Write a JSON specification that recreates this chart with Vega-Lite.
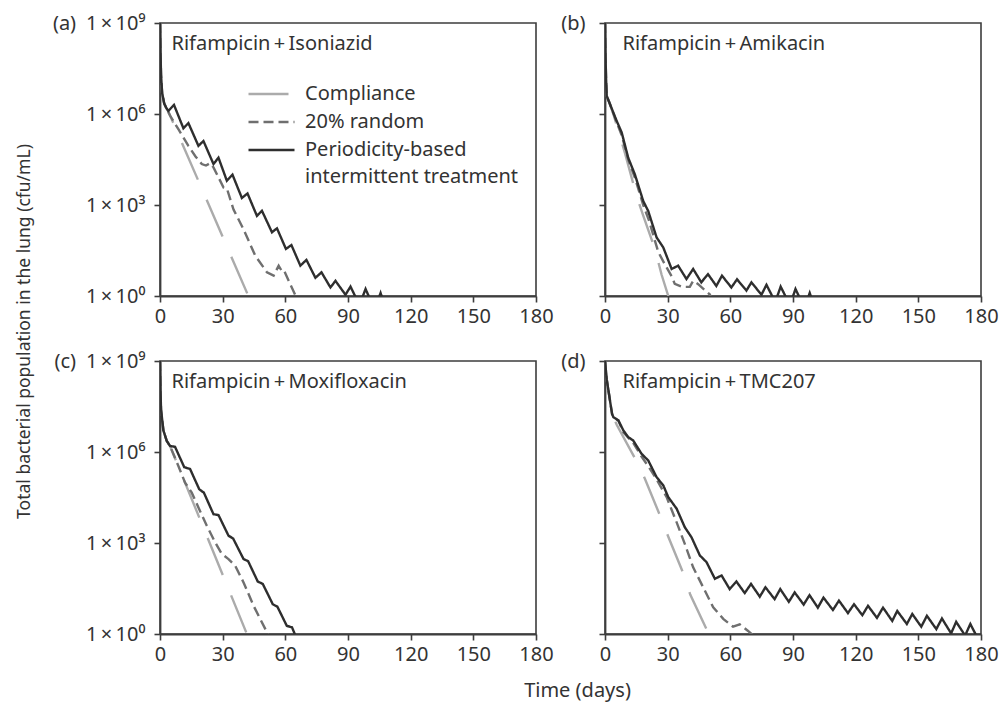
{
  "$schema": "https://vega.github.io/schema/vega-lite/v6.json",
  "padding": {"left": 14, "top": 12, "right": 5, "bottom": 5},
  "background": "white",
  "columns": 2,
  "spacing": {"row": 65, "column": 69},
  "bounds": "flush",
  "resolve": {"legend": {"color": "independent", "strokeDash": "independent"}},
  "datasets": {
    "a": [
      {"series": "Compliance", "day": 0, "cfu": 1e9}, {"series": "Compliance", "day": 0.25, "cfu": 1e8}, {"series": "Compliance", "day": 0.5, "cfu": 2e7}, {"series": "Compliance", "day": 1, "cfu": 5.01e6}, {"series": "Compliance", "day": 2, "cfu": 2.24e6}, {"series": "Compliance", "day": 3, "cfu": 1.58e6}, {"series": "Compliance", "day": 4, "cfu": 1.2e6}, {"series": "Compliance", "day": 42.3, "cfu": 1}, {"series": "Compliance", "day": 44, "cfu": 0.537},
      {"series": "20% random", "day": 0, "cfu": 1e9}, {"series": "20% random", "day": 0.25, "cfu": 1e8}, {"series": "20% random", "day": 0.5, "cfu": 2e7}, {"series": "20% random", "day": 1, "cfu": 5.01e6}, {"series": "20% random", "day": 2, "cfu": 2.24e6}, {"series": "20% random", "day": 3, "cfu": 1.58e6}, {"series": "20% random", "day": 4.8, "cfu": 8.91e5}, {"series": "20% random", "day": 8.8, "cfu": 3.16e5}, {"series": "20% random", "day": 13.6, "cfu": 8.91e4}, {"series": "20% random", "day": 17, "cfu": 3.98e4}, {"series": "20% random", "day": 20, "cfu": 2.24e4}, {"series": "20% random", "day": 22, "cfu": 2.0e4}, {"series": "20% random", "day": 24, "cfu": 2.4e4}, {"series": "20% random", "day": 25.6, "cfu": 1.74e4}, {"series": "20% random", "day": 30.4, "cfu": 3.8e3}, {"series": "20% random", "day": 32, "cfu": 3.55e3}, {"series": "20% random", "day": 35.2, "cfu": 708}, {"series": "20% random", "day": 40, "cfu": 158}, {"series": "20% random", "day": 45.6, "cfu": 21.4}, {"series": "20% random", "day": 51.2, "cfu": 6.03}, {"series": "20% random", "day": 54.4, "cfu": 4.68}, {"series": "20% random", "day": 56.8, "cfu": 10}, {"series": "20% random", "day": 58.5, "cfu": 6.31}, {"series": "20% random", "day": 59.5, "cfu": 6.61}, {"series": "20% random", "day": 65.6, "cfu": 0.794}, {"series": "20% random", "day": 66.5, "cfu": 0.6},
      {"series": "Periodicity-based intermittent treatment", "day": 0, "cfu": 1e9}, {"series": "Periodicity-based intermittent treatment", "day": 0.25, "cfu": 1e8}, {"series": "Periodicity-based intermittent treatment", "day": 0.5, "cfu": 2e7}, {"series": "Periodicity-based intermittent treatment", "day": 1, "cfu": 5.01e6}, {"series": "Periodicity-based intermittent treatment", "day": 2, "cfu": 2.24e6}, {"series": "Periodicity-based intermittent treatment", "day": 3, "cfu": 1.58e6}, {"series": "Periodicity-based intermittent treatment", "day": 4, "cfu": 1.26e6}, {"series": "Periodicity-based intermittent treatment", "day": 6.7, "cfu": 2e6}, {"series": "Periodicity-based intermittent treatment", "day": 11.2, "cfu": 3.39e5}, {"series": "Periodicity-based intermittent treatment", "day": 13.6, "cfu": 5.01e5}, {"series": "Periodicity-based intermittent treatment", "day": 18.4, "cfu": 8.91e4}, {"series": "Periodicity-based intermittent treatment", "day": 20.8, "cfu": 1.29e5}, {"series": "Periodicity-based intermittent treatment", "day": 25.6, "cfu": 2.24e4}, {"series": "Periodicity-based intermittent treatment", "day": 28, "cfu": 3.63e4}, {"series": "Periodicity-based intermittent treatment", "day": 32, "cfu": 6.31e3}, {"series": "Periodicity-based intermittent treatment", "day": 34.7, "cfu": 1e4}, {"series": "Periodicity-based intermittent treatment", "day": 39.2, "cfu": 1.7e3}, {"series": "Periodicity-based intermittent treatment", "day": 41.9, "cfu": 2.4e3}, {"series": "Periodicity-based intermittent treatment", "day": 46.4, "cfu": 437}, {"series": "Periodicity-based intermittent treatment", "day": 48.8, "cfu": 646}, {"series": "Periodicity-based intermittent treatment", "day": 53.6, "cfu": 126}, {"series": "Periodicity-based intermittent treatment", "day": 56, "cfu": 170}, {"series": "Periodicity-based intermittent treatment", "day": 60.3, "cfu": 35.5}, {"series": "Periodicity-based intermittent treatment", "day": 62.9, "cfu": 47.9}, {"series": "Periodicity-based intermittent treatment", "day": 67.2, "cfu": 10}, {"series": "Periodicity-based intermittent treatment", "day": 70.1, "cfu": 15.5}, {"series": "Periodicity-based intermittent treatment", "day": 74.4, "cfu": 3.98}, {"series": "Periodicity-based intermittent treatment", "day": 77.3, "cfu": 6.03}, {"series": "Periodicity-based intermittent treatment", "day": 81.6, "cfu": 1.91}, {"series": "Periodicity-based intermittent treatment", "day": 84, "cfu": 3.16}, {"series": "Periodicity-based intermittent treatment", "day": 88.8, "cfu": 1.1}, {"series": "Periodicity-based intermittent treatment", "day": 91.2, "cfu": 2.04}, {"series": "Periodicity-based intermittent treatment", "day": 95.5, "cfu": 0.501}, {"series": "Periodicity-based intermittent treatment", "day": 98.4, "cfu": 1.7}, {"series": "Periodicity-based intermittent treatment", "day": 102.8, "cfu": 0.355}, {"series": "Periodicity-based intermittent treatment", "day": 105.6, "cfu": 1.26}, {"series": "Periodicity-based intermittent treatment", "day": 107.5, "cfu": 0.5}
    ],
    "b": [
      {"series": "Compliance", "day": 0, "cfu": 1e9}, {"series": "Compliance", "day": 0.25, "cfu": 7.94e7}, {"series": "Compliance", "day": 0.5, "cfu": 1.58e7}, {"series": "Compliance", "day": 0.8, "cfu": 3.98e6}, {"series": "Compliance", "day": 2.4, "cfu": 2.09e6}, {"series": "Compliance", "day": 4, "cfu": 1e6}, {"series": "Compliance", "day": 9.6, "cfu": 5.01e4}, {"series": "Compliance", "day": 15.1, "cfu": 2.0e3}, {"series": "Compliance", "day": 18.3, "cfu": 447}, {"series": "Compliance", "day": 23.9, "cfu": 35.5}, {"series": "Compliance", "day": 27.1, "cfu": 5.01}, {"series": "Compliance", "day": 30.3, "cfu": 1}, {"series": "Compliance", "day": 31.2, "cfu": 0.6},
      {"series": "20% random", "day": 0, "cfu": 1e9}, {"series": "20% random", "day": 0.25, "cfu": 7.94e7}, {"series": "20% random", "day": 0.5, "cfu": 1.58e7}, {"series": "20% random", "day": 0.8, "cfu": 3.98e6}, {"series": "20% random", "day": 2.4, "cfu": 2.09e6}, {"series": "20% random", "day": 5.6, "cfu": 5.25e5}, {"series": "20% random", "day": 8, "cfu": 2.0e5}, {"series": "20% random", "day": 11.1, "cfu": 3.16e4}, {"series": "20% random", "day": 14.3, "cfu": 7.94e3}, {"series": "20% random", "day": 18.3, "cfu": 1e3}, {"series": "20% random", "day": 21, "cfu": 316}, {"series": "20% random", "day": 25.5, "cfu": 28.2}, {"series": "20% random", "day": 29, "cfu": 10}, {"series": "20% random", "day": 31.9, "cfu": 4.47}, {"series": "20% random", "day": 33.4, "cfu": 2.51}, {"series": "20% random", "day": 37, "cfu": 2.0}, {"series": "20% random", "day": 40.6, "cfu": 2.0}, {"series": "20% random", "day": 42.2, "cfu": 3.16}, {"series": "20% random", "day": 44.6, "cfu": 2.45}, {"series": "20% random", "day": 50.2, "cfu": 1.12}, {"series": "20% random", "day": 51.5, "cfu": 0.631},
      {"series": "Periodicity-based intermittent treatment", "day": 0, "cfu": 1e9}, {"series": "Periodicity-based intermittent treatment", "day": 0.25, "cfu": 7.94e7}, {"series": "Periodicity-based intermittent treatment", "day": 0.5, "cfu": 1.58e7}, {"series": "Periodicity-based intermittent treatment", "day": 0.8, "cfu": 3.98e6}, {"series": "Periodicity-based intermittent treatment", "day": 2.4, "cfu": 2.09e6}, {"series": "Periodicity-based intermittent treatment", "day": 5.6, "cfu": 5.89e5}, {"series": "Periodicity-based intermittent treatment", "day": 8, "cfu": 2.45e5}, {"series": "Periodicity-based intermittent treatment", "day": 11.1, "cfu": 3.63e4}, {"series": "Periodicity-based intermittent treatment", "day": 14.3, "cfu": 1.02e4}, {"series": "Periodicity-based intermittent treatment", "day": 18.3, "cfu": 1.35e3}, {"series": "Periodicity-based intermittent treatment", "day": 20.7, "cfu": 631}, {"series": "Periodicity-based intermittent treatment", "day": 24.7, "cfu": 85.1}, {"series": "Periodicity-based intermittent treatment", "day": 27.9, "cfu": 39.8}, {"series": "Periodicity-based intermittent treatment", "day": 31.9, "cfu": 7.76}, {"series": "Periodicity-based intermittent treatment", "day": 35, "cfu": 10}, {"series": "Periodicity-based intermittent treatment", "day": 39, "cfu": 3.63}, {"series": "Periodicity-based intermittent treatment", "day": 42.2, "cfu": 7.76}, {"series": "Periodicity-based intermittent treatment", "day": 46.1, "cfu": 2.82}, {"series": "Periodicity-based intermittent treatment", "day": 49.3, "cfu": 5.25}, {"series": "Periodicity-based intermittent treatment", "day": 53.3, "cfu": 2.14}, {"series": "Periodicity-based intermittent treatment", "day": 56, "cfu": 4.68}, {"series": "Periodicity-based intermittent treatment", "day": 60.5, "cfu": 1.91}, {"series": "Periodicity-based intermittent treatment", "day": 63.2, "cfu": 3.55}, {"series": "Periodicity-based intermittent treatment", "day": 67.7, "cfu": 1.51}, {"series": "Periodicity-based intermittent treatment", "day": 70.1, "cfu": 2.82}, {"series": "Periodicity-based intermittent treatment", "day": 74.9, "cfu": 1.1}, {"series": "Periodicity-based intermittent treatment", "day": 77.3, "cfu": 2.34}, {"series": "Periodicity-based intermittent treatment", "day": 81.5, "cfu": 0.631}, {"series": "Periodicity-based intermittent treatment", "day": 84.1, "cfu": 2.04}, {"series": "Periodicity-based intermittent treatment", "day": 88.5, "cfu": 0.501}, {"series": "Periodicity-based intermittent treatment", "day": 91.2, "cfu": 1.7}, {"series": "Periodicity-based intermittent treatment", "day": 95.5, "cfu": 0.398}, {"series": "Periodicity-based intermittent treatment", "day": 98, "cfu": 1.26}, {"series": "Periodicity-based intermittent treatment", "day": 100, "cfu": 0.5}
    ],
    "c": [
      {"series": "Compliance", "day": 0, "cfu": 1e9}, {"series": "Compliance", "day": 0.25, "cfu": 1e8}, {"series": "Compliance", "day": 0.5, "cfu": 2.51e7}, {"series": "Compliance", "day": 1.6, "cfu": 5.25e6}, {"series": "Compliance", "day": 3.2, "cfu": 2.34e6}, {"series": "Compliance", "day": 4.8, "cfu": 1.58e6}, {"series": "Compliance", "day": 41.6, "cfu": 1}, {"series": "Compliance", "day": 43, "cfu": 0.575},
      {"series": "20% random", "day": 0, "cfu": 1e9}, {"series": "20% random", "day": 0.25, "cfu": 1e8}, {"series": "20% random", "day": 0.5, "cfu": 2.51e7}, {"series": "20% random", "day": 1.6, "cfu": 5.25e6}, {"series": "20% random", "day": 3.2, "cfu": 2.34e6}, {"series": "20% random", "day": 4.8, "cfu": 1.58e6}, {"series": "20% random", "day": 8.8, "cfu": 3.47e5}, {"series": "20% random", "day": 12, "cfu": 9.77e4}, {"series": "20% random", "day": 15.2, "cfu": 4.57e4}, {"series": "20% random", "day": 18.4, "cfu": 1.48e4}, {"series": "20% random", "day": 22.4, "cfu": 3.72e3}, {"series": "20% random", "day": 26.4, "cfu": 1.05e3}, {"series": "20% random", "day": 29.6, "cfu": 437}, {"series": "20% random", "day": 32.8, "cfu": 295}, {"series": "20% random", "day": 36, "cfu": 178}, {"series": "20% random", "day": 40, "cfu": 50.1}, {"series": "20% random", "day": 44.8, "cfu": 8.51}, {"series": "20% random", "day": 48, "cfu": 3.09}, {"series": "20% random", "day": 52, "cfu": 0.891}, {"series": "20% random", "day": 53, "cfu": 0.562},
      {"series": "Periodicity-based intermittent treatment", "day": 0, "cfu": 1e9}, {"series": "Periodicity-based intermittent treatment", "day": 0.25, "cfu": 1e8}, {"series": "Periodicity-based intermittent treatment", "day": 0.5, "cfu": 2.51e7}, {"series": "Periodicity-based intermittent treatment", "day": 1.6, "cfu": 5.25e6}, {"series": "Periodicity-based intermittent treatment", "day": 3.2, "cfu": 2.34e6}, {"series": "Periodicity-based intermittent treatment", "day": 4.8, "cfu": 1.58e6}, {"series": "Periodicity-based intermittent treatment", "day": 7.2, "cfu": 1.48e6}, {"series": "Periodicity-based intermittent treatment", "day": 11.6, "cfu": 3.16e5}, {"series": "Periodicity-based intermittent treatment", "day": 14.4, "cfu": 2.75e5}, {"series": "Periodicity-based intermittent treatment", "day": 18.8, "cfu": 5.89e4}, {"series": "Periodicity-based intermittent treatment", "day": 21, "cfu": 4.57e4}, {"series": "Periodicity-based intermittent treatment", "day": 25.6, "cfu": 8.91e3}, {"series": "Periodicity-based intermittent treatment", "day": 28, "cfu": 8.32e3}, {"series": "Periodicity-based intermittent treatment", "day": 32.8, "cfu": 1.74e3}, {"series": "Periodicity-based intermittent treatment", "day": 35, "cfu": 1.41e3}, {"series": "Periodicity-based intermittent treatment", "day": 40, "cfu": 295}, {"series": "Periodicity-based intermittent treatment", "day": 42.2, "cfu": 251}, {"series": "Periodicity-based intermittent treatment", "day": 46.8, "cfu": 53.7}, {"series": "Periodicity-based intermittent treatment", "day": 49.2, "cfu": 44.7}, {"series": "Periodicity-based intermittent treatment", "day": 54, "cfu": 9.55}, {"series": "Periodicity-based intermittent treatment", "day": 56.2, "cfu": 7.94}, {"series": "Periodicity-based intermittent treatment", "day": 60.7, "cfu": 1.86}, {"series": "Periodicity-based intermittent treatment", "day": 63.2, "cfu": 1.66}, {"series": "Periodicity-based intermittent treatment", "day": 64.8, "cfu": 0.891}, {"series": "Periodicity-based intermittent treatment", "day": 65.3, "cfu": 0.5}
    ],
    "d": [
      {"series": "Compliance", "day": 0, "cfu": 1e9}, {"series": "Compliance", "day": 0.8, "cfu": 2.51e8}, {"series": "Compliance", "day": 1.6, "cfu": 1.12e8}, {"series": "Compliance", "day": 2.6, "cfu": 3.98e7}, {"series": "Compliance", "day": 3.4, "cfu": 1.78e7}, {"series": "Compliance", "day": 4, "cfu": 1.41e7}, {"series": "Compliance", "day": 5.6, "cfu": 7.94e6}, {"series": "Compliance", "day": 14.3, "cfu": 6.31e5}, {"series": "Compliance", "day": 19.1, "cfu": 1.32e5}, {"series": "Compliance", "day": 26.3, "cfu": 8.13e3}, {"series": "Compliance", "day": 30.4, "cfu": 1.55e3}, {"series": "Compliance", "day": 37.6, "cfu": 95.5}, {"series": "Compliance", "day": 40.8, "cfu": 20}, {"series": "Compliance", "day": 48.6, "cfu": 1.45}, {"series": "Compliance", "day": 49.5, "cfu": 1}, {"series": "Compliance", "day": 50.5, "cfu": 0.631},
      {"series": "20% random", "day": 0, "cfu": 1e9}, {"series": "20% random", "day": 0.8, "cfu": 2.51e8}, {"series": "20% random", "day": 1.6, "cfu": 1.12e8}, {"series": "20% random", "day": 2.6, "cfu": 3.98e7}, {"series": "20% random", "day": 3.4, "cfu": 1.78e7}, {"series": "20% random", "day": 4, "cfu": 1.41e7}, {"series": "20% random", "day": 6.4, "cfu": 1.1e7}, {"series": "20% random", "day": 8.8, "cfu": 4.47e6}, {"series": "20% random", "day": 13.5, "cfu": 2.0e6}, {"series": "20% random", "day": 17.5, "cfu": 7.08e5}, {"series": "20% random", "day": 21, "cfu": 3.16e5}, {"series": "20% random", "day": 24.7, "cfu": 1.26e5}, {"series": "20% random", "day": 29.5, "cfu": 3.24e4}, {"series": "20% random", "day": 34.3, "cfu": 4.79e3}, {"series": "20% random", "day": 38.2, "cfu": 933}, {"series": "20% random", "day": 42.2, "cfu": 158}, {"series": "20% random", "day": 47, "cfu": 34.7}, {"series": "20% random", "day": 51.8, "cfu": 7.59}, {"series": "20% random", "day": 56.6, "cfu": 3.16}, {"series": "20% random", "day": 61.3, "cfu": 1.74}, {"series": "20% random", "day": 64.5, "cfu": 2.09}, {"series": "20% random", "day": 68.5, "cfu": 1.26}, {"series": "20% random", "day": 71, "cfu": 0.891}, {"series": "20% random", "day": 72, "cfu": 0.631},
      {"series": "Periodicity-based intermittent treatment", "day": 0, "cfu": 1e9}, {"series": "Periodicity-based intermittent treatment", "day": 0.8, "cfu": 2.51e8}, {"series": "Periodicity-based intermittent treatment", "day": 1.6, "cfu": 1.12e8}, {"series": "Periodicity-based intermittent treatment", "day": 2.6, "cfu": 3.98e7}, {"series": "Periodicity-based intermittent treatment", "day": 3.4, "cfu": 1.78e7}, {"series": "Periodicity-based intermittent treatment", "day": 4, "cfu": 1.41e7}, {"series": "Periodicity-based intermittent treatment", "day": 6.4, "cfu": 1.1e7}, {"series": "Periodicity-based intermittent treatment", "day": 8.8, "cfu": 5.13e6}, {"series": "Periodicity-based intermittent treatment", "day": 11.1, "cfu": 3.09e6}, {"series": "Periodicity-based intermittent treatment", "day": 13.5, "cfu": 2.4e6}, {"series": "Periodicity-based intermittent treatment", "day": 17.5, "cfu": 8.71e5}, {"series": "Periodicity-based intermittent treatment", "day": 20.7, "cfu": 5.25e5}, {"series": "Periodicity-based intermittent treatment", "day": 24.7, "cfu": 1.48e5}, {"series": "Periodicity-based intermittent treatment", "day": 27.9, "cfu": 7.94e4}, {"series": "Periodicity-based intermittent treatment", "day": 30.3, "cfu": 3.24e4}, {"series": "Periodicity-based intermittent treatment", "day": 34.3, "cfu": 1.35e4}, {"series": "Periodicity-based intermittent treatment", "day": 38.2, "cfu": 3.31e3}, {"series": "Periodicity-based intermittent treatment", "day": 41.4, "cfu": 1.55e3}, {"series": "Periodicity-based intermittent treatment", "day": 45.4, "cfu": 389}, {"series": "Periodicity-based intermittent treatment", "day": 48.6, "cfu": 234}, {"series": "Periodicity-based intermittent treatment", "day": 52.6, "cfu": 66.1}, {"series": "Periodicity-based intermittent treatment", "day": 55.8, "cfu": 85.1}, {"series": "Periodicity-based intermittent treatment", "day": 59.7, "cfu": 30.2}, {"series": "Periodicity-based intermittent treatment", "day": 62.9, "cfu": 53.7}, {"series": "Periodicity-based intermittent treatment", "day": 66.9, "cfu": 22.4}, {"series": "Periodicity-based intermittent treatment", "day": 69.9, "cfu": 44.7}, {"series": "Periodicity-based intermittent treatment", "day": 74.1, "cfu": 17}, {"series": "Periodicity-based intermittent treatment", "day": 76.8, "cfu": 34.7}, {"series": "Periodicity-based intermittent treatment", "day": 81.2, "cfu": 14.1}, {"series": "Periodicity-based intermittent treatment", "day": 83.9, "cfu": 30.2}, {"series": "Periodicity-based intermittent treatment", "day": 88, "cfu": 11.5}, {"series": "Periodicity-based intermittent treatment", "day": 90.8, "cfu": 23.4}, {"series": "Periodicity-based intermittent treatment", "day": 95.1, "cfu": 9.33}, {"series": "Periodicity-based intermittent treatment", "day": 97.9, "cfu": 19.1}, {"series": "Periodicity-based intermittent treatment", "day": 101.9, "cfu": 7.41}, {"series": "Periodicity-based intermittent treatment", "day": 104.6, "cfu": 15.8}, {"series": "Periodicity-based intermittent treatment", "day": 109.1, "cfu": 6.17}, {"series": "Periodicity-based intermittent treatment", "day": 112, "cfu": 12.6}, {"series": "Periodicity-based intermittent treatment", "day": 116.3, "cfu": 4.9}, {"series": "Periodicity-based intermittent treatment", "day": 119.2, "cfu": 9.55}, {"series": "Periodicity-based intermittent treatment", "day": 123.2, "cfu": 4.17}, {"series": "Periodicity-based intermittent treatment", "day": 125.9, "cfu": 8.51}, {"series": "Periodicity-based intermittent treatment", "day": 130.2, "cfu": 3.39}, {"series": "Periodicity-based intermittent treatment", "day": 133.1, "cfu": 7.41}, {"series": "Periodicity-based intermittent treatment", "day": 137.5, "cfu": 2.69}, {"series": "Periodicity-based intermittent treatment", "day": 139.9, "cfu": 5.75}, {"series": "Periodicity-based intermittent treatment", "day": 144.5, "cfu": 2.14}, {"series": "Periodicity-based intermittent treatment", "day": 147.1, "cfu": 4.57}, {"series": "Periodicity-based intermittent treatment", "day": 151.4, "cfu": 1.74}, {"series": "Periodicity-based intermittent treatment", "day": 154.1, "cfu": 3.98}, {"series": "Periodicity-based intermittent treatment", "day": 158.6, "cfu": 1.45}, {"series": "Periodicity-based intermittent treatment", "day": 161.3, "cfu": 3.24}, {"series": "Periodicity-based intermittent treatment", "day": 165.7, "cfu": 1.05}, {"series": "Periodicity-based intermittent treatment", "day": 168.1, "cfu": 2.51}, {"series": "Periodicity-based intermittent treatment", "day": 172.4, "cfu": 0.891}, {"series": "Periodicity-based intermittent treatment", "day": 174.9, "cfu": 2.14}, {"series": "Periodicity-based intermittent treatment", "day": 178.5, "cfu": 0.7}
    ]
  },
  "concat": [
    {
      "width": 376, "height": 273,
      "data": {"name": "a"},
      "title": {"text": "Rifampicin\u2009+\u2009Isoniazid", "anchor": "start", "frame": "group", "orient": "top", "offset": -57, "dx": 11.5, "baseline": "alphabetic"},
      "mark": {"type": "line", "clip": true, "strokeWidth": 2.4},
      "encoding": {
        "x": {"field": "day", "type": "quantitative", "scale": {"domain": [0, 180], "nice": false}, "axis": {"values": [0, 30, 60, 90, 120, 150, 180], "title": null}},
        "y": {"field": "cfu", "type": "quantitative", "scale": {"type": "log", "domain": [1, 1000000000], "nice": false}, "axis": {"values": [1, 1000, 1000000, 1000000000], "labelPadding": 9, "labelExpr": "datum.value < 10 ? '1\u2009×\u200910⁰' : datum.value < 10000 ? '1\u2009×\u200910³' : datum.value < 10000000 ? '1\u2009×\u200910⁶' : '(a)\u20021\u2009×\u200910⁹'", "title": "Total bacterial population in the lung (cfu/mL)", "titleX": -136, "titleY": 308, "titleAngle": -90, "titleBaseline": "middle", "titleAlign": "center", "titleFontSize": 17.5}},
        "color": {"field": "series", "type": "nominal", "scale": {"domain": ["Compliance", "20% random", "Periodicity-based intermittent treatment"], "range": ["#ababab", "#6f6f6f", "#2e2e2e"]},
          "legend": {"title": null, "orient": "none", "legendX": 87, "legendY": 61, "clipHeight": 20,
            "labelExpr": "datum.value == 'Periodicity-based intermittent treatment' ? ['Periodicity-based', 'intermittent treatment'] : datum.label",
            "encode": {"labels": {"update": {"lineHeight": {"value": 27}}},
                       "symbols": {"update": {"strokeDash": {"signal": "datum.value == 'Compliance' ? [20, 5] : datum.value == '20% random' ? [10, 5] : [1, 0]"}}}}}},
        "strokeDash": {"field": "series", "type": "nominal", "scale": {"domain": ["Compliance", "20% random", "Periodicity-based intermittent treatment"], "range": [[40, 22], [10, 5], [1, 0]]},
          "legend": {"title": null, "orient": "none", "legendX": 87, "legendY": 61, "clipHeight": 20,
            "labelExpr": "datum.value == 'Periodicity-based intermittent treatment' ? ['Periodicity-based', 'intermittent treatment'] : datum.label",
            "encode": {"labels": {"update": {"lineHeight": {"value": 27}}},
                       "symbols": {"update": {"strokeDash": {"signal": "datum.value == 'Compliance' ? [20, 5] : datum.value == '20% random' ? [10, 5] : [1, 0]"}}}}}}
      }
    },
    {
      "width": 376, "height": 273,
      "data": {"name": "b"},
      "title": {"text": "Rifampicin\u2009+\u2009Amikacin", "anchor": "start", "frame": "group", "orient": "top", "offset": -57, "dx": 17.5, "baseline": "alphabetic"},
      "mark": {"type": "line", "clip": true, "strokeWidth": 2.4},
      "encoding": {
        "x": {"field": "day", "type": "quantitative", "scale": {"domain": [0, 180], "nice": false}, "axis": {"values": [0, 30, 60, 90, 120, 150, 180], "title": null}},
        "y": {"field": "cfu", "type": "quantitative", "scale": {"type": "log", "domain": [1, 1000000000], "nice": false}, "axis": {"values": [1, 1000, 1000000, 1000000000], "labelPadding": 14, "labelExpr": "datum.value > 100000000 ? '(b)' : ''", "title": null}},
        "color": {"field": "series", "type": "nominal", "scale": {"domain": ["Compliance", "20% random", "Periodicity-based intermittent treatment"], "range": ["#ababab", "#6f6f6f", "#2e2e2e"]}, "legend": null},
        "strokeDash": {"field": "series", "type": "nominal", "scale": {"domain": ["Compliance", "20% random", "Periodicity-based intermittent treatment"], "range": [[40, 22], [10, 5], [1, 0]]}, "legend": null}
      }
    },
    {
      "width": 376, "height": 273,
      "data": {"name": "c"},
      "title": {"text": "Rifampicin\u2009+\u2009Moxifloxacin", "anchor": "start", "frame": "group", "orient": "top", "offset": -57, "dx": 11.5, "baseline": "alphabetic"},
      "mark": {"type": "line", "clip": true, "strokeWidth": 2.4},
      "encoding": {
        "x": {"field": "day", "type": "quantitative", "scale": {"domain": [0, 180], "nice": false}, "axis": {"values": [0, 30, 60, 90, 120, 150, 180], "title": "Time (days)", "titleX": 417, "titleY": 62, "titleAlign": "center", "titleBaseline": "alphabetic"}},
        "y": {"field": "cfu", "type": "quantitative", "scale": {"type": "log", "domain": [1, 1000000000], "nice": false}, "axis": {"values": [1, 1000, 1000000, 1000000000], "labelPadding": 9, "labelExpr": "datum.value < 10 ? '1\u2009×\u200910⁰' : datum.value < 10000 ? '1\u2009×\u200910³' : datum.value < 10000000 ? '1\u2009×\u200910⁶' : '(c)\u20021\u2009×\u200910⁹'", "title": null}},
        "color": {"field": "series", "type": "nominal", "scale": {"domain": ["Compliance", "20% random", "Periodicity-based intermittent treatment"], "range": ["#ababab", "#6f6f6f", "#2e2e2e"]}, "legend": null},
        "strokeDash": {"field": "series", "type": "nominal", "scale": {"domain": ["Compliance", "20% random", "Periodicity-based intermittent treatment"], "range": [[40, 22], [10, 5], [1, 0]]}, "legend": null}
      }
    },
    {
      "width": 376, "height": 273,
      "data": {"name": "d"},
      "title": {"text": "Rifampicin\u2009+\u2009TMC207", "anchor": "start", "frame": "group", "orient": "top", "offset": -57, "dx": 17.5, "baseline": "alphabetic"},
      "mark": {"type": "line", "clip": true, "strokeWidth": 2.4},
      "encoding": {
        "x": {"field": "day", "type": "quantitative", "scale": {"domain": [0, 180], "nice": false}, "axis": {"values": [0, 30, 60, 90, 120, 150, 180], "title": null}},
        "y": {"field": "cfu", "type": "quantitative", "scale": {"type": "log", "domain": [1, 1000000000], "nice": false}, "axis": {"values": [1, 1000, 1000000, 1000000000], "labelPadding": 14, "labelExpr": "datum.value > 100000000 ? '(d)' : ''", "title": null}},
        "color": {"field": "series", "type": "nominal", "scale": {"domain": ["Compliance", "20% random", "Periodicity-based intermittent treatment"], "range": ["#ababab", "#6f6f6f", "#2e2e2e"]}, "legend": null},
        "strokeDash": {"field": "series", "type": "nominal", "scale": {"domain": ["Compliance", "20% random", "Periodicity-based intermittent treatment"], "range": [[40, 22], [10, 5], [1, 0]]}, "legend": null}
      }
    }
  ],
  "config": {
    "font": "Noto Sans",
    "view": {"stroke": "#3d3d3d", "strokeWidth": 1.6},
    "axis": {"domainColor": "#3d3d3d", "domainWidth": 1.8, "tickColor": "#3d3d3d", "tickWidth": 1.6, "tickSize": 6, "grid": false, "labelFontSize": 20, "labelColor": "#333333", "labelFlush": false, "labelOverlap": false, "titleFontSize": 20, "titleFontWeight": "normal", "titleColor": "#333333"},
    "axisX": {"labelPadding": 4},
    "legend": {"symbolType": "stroke", "symbolSize": 2116, "symbolStrokeWidth": 2.4, "labelFontSize": 20, "labelColor": "#333333", "labelOffset": 9, "rowPadding": 8, "padding": 0, "labelLimit": 400},
    "title": {"fontSize": 20, "fontWeight": "normal", "color": "#333333"}
  }
}
